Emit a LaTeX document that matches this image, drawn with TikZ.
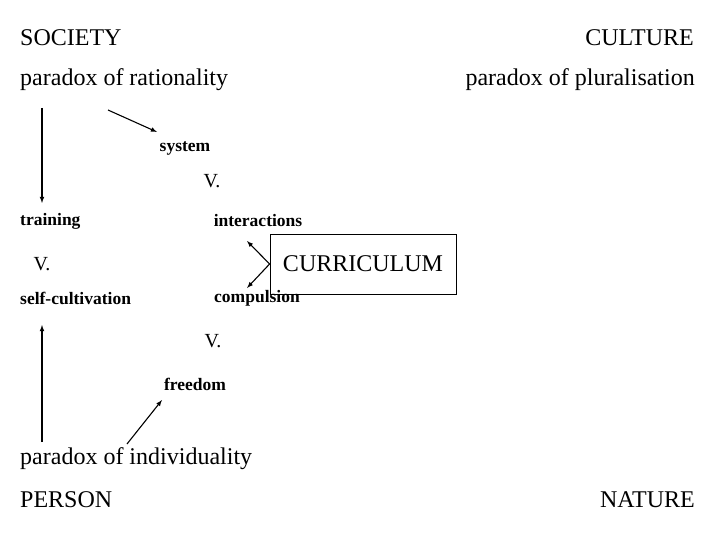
\documentclass[tikz,border=0pt]{standalone}
\usepackage{fontspec}
\setmainfont{Liberation Serif}
\begin{document}
\begin{tikzpicture}[x=1pt,y=-1pt,
 big/.style={font=\fontsize{24}{26}\selectfont,inner sep=0pt},
 mid/.style={font=\fontsize{20}{22}\selectfont,inner sep=0pt},
 sm/.style={font=\bfseries\fontsize{17.5}{19}\selectfont,inner sep=0pt},
 arr/.style={-latex,line width=1.1pt}]
\useasboundingbox (0,0) rectangle (720,540);
\node[big,anchor=west] (soc) at (20,38) {SOCIETY};
\node[big,anchor=east] (cul) at (694,38) {CULTURE};
\node[big,anchor=west] (rat) at (20,80) {paradox of rationality};
\node[big,anchor=east] (plu) at (695,80) {paradox of pluralisation};
\node[sm] (sys) at (185,148) {system};
\node[mid] (v1) at (212,181) {V.};
\node[sm,anchor=west] (tr) at (20,221) {training};
\node[sm] (int) at (258,221) {interactions};
\node[mid] (v2) at (42,264) {V.};
\node[big,draw,line width=0.8pt,minimum width=186pt,minimum height=60pt] (cur) at (363,264) {CURRICULUM};
\node[sm,anchor=west] (sc) at (20,298) {self-cultivation};
\node[sm] (com) at (257,298) {compulsion};
\node[mid] (v3) at (213,341) {V.};
\node[sm] (fr) at (195,384) {freedom};
\node[big,anchor=west] (ind) at (20,459) {paradox of individuality};
\node[big,anchor=west] (per) at (20,500) {PERSON};
\node[big,anchor=east] (nat) at (695,500) {NATURE};
\coordinate (a1) at (42,108); \coordinate (a2) at (42,203);
\draw[arr] (a1) -- (a2);
\coordinate (b1) at (108,110); \coordinate (b2) at (157,132);
\draw[arr] (b1) -- (b2);
\coordinate (c1) at (42,442); \coordinate (c2) at (42,325);
\draw[arr] (c1) -- (c2);
\coordinate (d1) at (127,444); \coordinate (d2) at (162,400);
\draw[arr] (d1) -- (d2);
\coordinate (e1) at (247,241); \coordinate (e2) at (247,288);
\draw[arr] (cur.west) -- (e1);
\draw[arr] (cur.west) -- (e2);
\end{tikzpicture}
\end{document}
